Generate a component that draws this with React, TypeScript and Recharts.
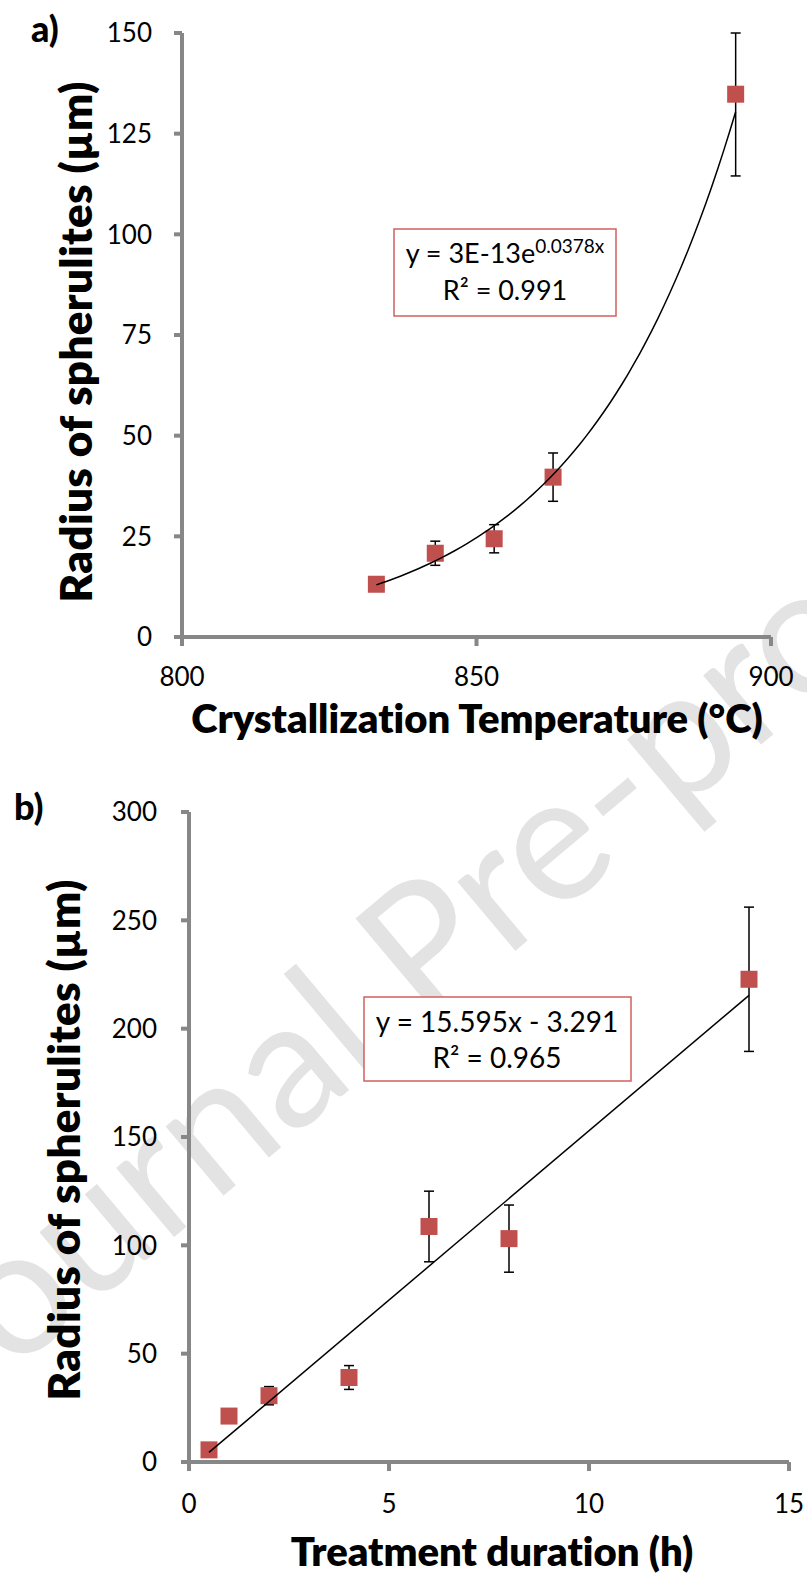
import React from 'react';
import { ScatterChart, Scatter, XAxis, YAxis, ErrorBar } from 'recharts';

// ---- Panel a) : radius vs crystallization temperature ----
const tempC = [833, 843, 853, 863, 894];
const radiusA = [13.1, 20.8, 24.4, 39.7, 134.8];
const errA = [0.8, 3.0, 3.5, 6.0, 20.3];
const xTicksA = [800, 850, 900];
const yTicksA = [0, 25, 50, 75, 100, 125, 150];
const eqA = 'y = 3E-13e';
const eqAExp = '0.0378x';
const r2A = 'R² = 0.991';

// ---- Panel b) : radius vs treatment duration ----
const hours = [0.5, 1, 2, 4, 6, 8, 14];
const radiusB = [5.6, 21.2, 30.6, 39.0, 108.7, 103.1, 222.8];
const errB = [0, 0, 4.2, 5.5, 16.3, 15.5, 33.3];
const xTicksB = [0, 5, 10, 15];
const yTicksB = [0, 50, 100, 150, 200, 250, 300];
const eqB = 'y = 15.595x - 3.291';
const r2B = 'R² = 0.965';

const titleXA = 'Crystallization Temperature (°C)';
const titleXB = 'Treatment duration (h)';
const titleY = 'Radius of spherulites (µm)';
const watermark = 'Journal Pre-proof';

// least squares helper (trendlines fitted to the data, like the spreadsheet does)
function linFit(xs: number[], ys: number[]) {
  const n = xs.length;
  const mx = xs.reduce((a, b) => a + b, 0) / n;
  const my = ys.reduce((a, b) => a + b, 0) / n;
  let sxy = 0;
  let sxx = 0;
  for (let i = 0; i < n; i++) {
    sxy += (xs[i] - mx) * (ys[i] - my);
    sxx += (xs[i] - mx) * (xs[i] - mx);
  }
  const slope = sxy / sxx;
  return { slope, intercept: my - slope * mx };
}

const yMaxA = yTicksA[yTicksA.length - 1];
const yMaxB = yTicksB[yTicksB.length - 1];
// error bars are cut at the top of the plot area, as in the original
const dataA = tempC.map((x, i) => ({
  x,
  y: radiusA[i],
  err: [errA[i], Math.min(errA[i], yMaxA - radiusA[i])],
}));
const dataB = hours.map((x, i) => ({
  x,
  y: radiusB[i],
  err: [errB[i], Math.min(errB[i], yMaxB - radiusB[i])],
}));

const expFitA = linFit(tempC, radiusA.map((v) => Math.log(v)));
const trendA = Array.from({ length: 61 }, (_, i) => {
  const x = tempC[0] + ((tempC[tempC.length - 1] - tempC[0]) * i) / 60;
  return { x, y: Math.exp(expFitA.intercept + expFitA.slope * x) };
});
const linFitB = linFit(hours, radiusB);
const trendB = [hours[0], hours[hours.length - 1]].map((x) => ({
  x,
  y: linFitB.intercept + linFitB.slope * x,
}));

const AXIS = '#878787';
const MARK = '#C0504D';
const FONT = 'Lato, "Open Sans", sans-serif';

const Square = (props: any) => {
  const { cx, cy } = props;
  if (cx == null || cy == null) return <g />;
  return <rect x={cx - 8.5} y={cy - 8.5} width={17} height={17} fill={MARK} />;
};
const NoDot = () => <g />;

const tickStyle = { fill: '#000', fontSize: 26, fontFamily: FONT };
const titleStyle: React.CSSProperties = { fontVariantLigatures: 'none' };

export default function App() {
  return (
    <div
      style={{
        position: 'absolute',
        left: 0,
        top: 0,
        width: 807,
        height: 1578,
        background: '#fff',
        overflow: 'hidden',
      }}
    >
      {/* watermark */}
      <svg width={807} height={1578} style={{ position: 'absolute', left: 0, top: 0 }}>
        <text
          x={-44}
          y={1420}
          transform="rotate(-40 -44 1420)"
          fontSize={178}
          fontFamily={FONT}
          fill="#e3e3e3"
        >
          {watermark}
        </text>
      </svg>

      <div style={{ position: 'absolute', left: 0, top: 0 }}>
        <ScatterChart width={807} height={760} margin={{ top: 33, right: 36, left: 122, bottom: 93 }}>
          <XAxis
            type="number"
            dataKey="x"
            domain={[800, 900]}
            ticks={xTicksA}
            interval={0}
            allowDataOverflow
            height={30}
            stroke={AXIS}
            strokeWidth={4}
            tickSize={9}
            tickMargin={22}
            tick={tickStyle}
          />
          <YAxis
            type="number"
            dataKey="y"
            domain={[0, 150]}
            ticks={yTicksA}
            interval={0}
            allowDataOverflow
            width={60}
            stroke={AXIS}
            strokeWidth={4}
            tickSize={8}
            tickMargin={22}
            tick={tickStyle}
          />
          <Scatter data={dataA} shape={Square} isAnimationActive={false}>
            <ErrorBar dataKey="err" direction="y" width={5} stroke="#000" strokeWidth={1.5} />
          </Scatter>
          <Scatter
            data={trendA}
            shape={NoDot}
            line={{ stroke: '#000', strokeWidth: 1.5 }}
            lineType="joint"
            isAnimationActive={false}
          />
        </ScatterChart>
      </div>

      <div style={{ position: 'absolute', left: 0, top: 780 }}>
        <ScatterChart width={807} height={798} margin={{ top: 32, right: 18, left: 129, bottom: 86 }}>
          <XAxis
            type="number"
            dataKey="x"
            domain={[0, 15]}
            ticks={xTicksB}
            interval={0}
            allowDataOverflow
            height={30}
            stroke={AXIS}
            strokeWidth={4}
            tickSize={9}
            tickMargin={24}
            tick={tickStyle}
          />
          <YAxis
            type="number"
            dataKey="y"
            domain={[0, 300]}
            ticks={yTicksB}
            interval={0}
            allowDataOverflow
            width={60}
            stroke={AXIS}
            strokeWidth={4}
            tickSize={8}
            tickMargin={24}
            tick={tickStyle}
          />
          <Scatter data={dataB} shape={Square} isAnimationActive={false}>
            <ErrorBar dataKey="err" direction="y" width={5} stroke="#000" strokeWidth={1.5} />
          </Scatter>
          <Scatter
            data={trendB}
            shape={NoDot}
            line={{ stroke: '#000', strokeWidth: 1.5 }}
            lineType="joint"
            isAnimationActive={false}
          />
        </ScatterChart>
      </div>

      {/* text overlay */}
      <svg
        width={807}
        height={1578}
        style={{ position: 'absolute', left: 0, top: 0, pointerEvents: 'none' }}
        fontFamily={FONT}
      >
        <text x={31} y={42} fontSize={36} fontWeight={900} fill="#000">a)</text>
        <text x={14} y={820} fontSize={36} fontWeight={900} fill="#000">b)</text>

        <text x={477} y={733} fontSize={40} fontWeight={800} textAnchor="middle" fill="#000" style={titleStyle}>
          {titleXA}
        </text>
        <text x={492} y={1566} fontSize={40} fontWeight={800} textAnchor="middle" fill="#000" style={titleStyle}>
          {titleXB}
        </text>
        <text
          x={92}
          y={342}
          transform="rotate(-90 92 342)"
          fontSize={44}
          fontWeight={800}
          letterSpacing={0.3}
          textAnchor="middle"
          fill="#000"
          style={titleStyle}
        >
          {titleY}
        </text>
        <text
          x={80}
          y={1140}
          transform="rotate(-90 80 1140)"
          fontSize={44}
          fontWeight={800}
          letterSpacing={0.3}
          textAnchor="middle"
          fill="#000"
          style={titleStyle}
        >
          {titleY}
        </text>

        <rect x={394} y={229} width={222} height={87} fill="#fff" stroke="#d0605e" strokeWidth={1.5} />
        <text x={505} y={263} fontSize={27} textAnchor="middle" fill="#000">
          {eqA}
          <tspan dy={-10} fontSize={19}>{eqAExp}</tspan>
        </text>
        <text x={505} y={300} fontSize={27} textAnchor="middle" fill="#000">{r2A}</text>

        <rect x={364} y={997} width={267} height={84} fill="#fff" stroke="#d0605e" strokeWidth={1.5} />
        <text x={497} y={1032} fontSize={28} textAnchor="middle" fill="#000">{eqB}</text>
        <text x={497} y={1068} fontSize={28} textAnchor="middle" fill="#000">{r2B}</text>
      </svg>
    </div>
  );
}
